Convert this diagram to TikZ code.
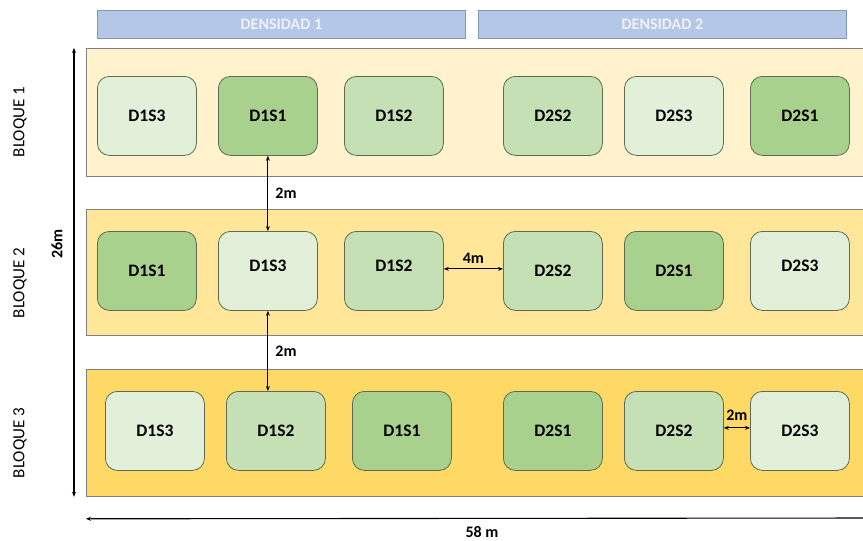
\documentclass[tikz,border=0pt]{standalone}
\usepackage{fontspec}
\setmainfont{Carlito}
\usetikzlibrary{arrows.meta}
\definecolor{hdrfill}{HTML}{B4C7E7}
\definecolor{hdrdraw}{HTML}{8497B0}
\definecolor{hdrtext}{HTML}{EEF2FA}
\definecolor{bandA}{HTML}{FFF2CC}
\definecolor{bandB}{HTML}{FFE699}
\definecolor{bandC}{HTML}{FFD966}
\definecolor{bandline}{HTML}{7F7F7F}
\definecolor{sA}{HTML}{A9D18E}
\definecolor{sB}{HTML}{C5E0B4}
\definecolor{sC}{HTML}{E2F0D9}
\definecolor{boxline}{HTML}{5E6B52}
\tikzset{
  hdr/.style={draw=hdrdraw, fill=hdrfill, line width=0.8pt, anchor=north west, inner sep=0pt,
    minimum width=368pt, minimum height=28pt, text=hdrtext, font=\fontsize{16}{19}\selectfont\bfseries},
  band/.style={draw=bandline, line width=0.8pt, anchor=north west, inner sep=0pt, minimum width=800pt},
  plot/.style={draw=boxline, line width=0.8pt, rounded corners=12pt, anchor=north west, inner sep=0pt,
    minimum width=99pt, minimum height=79pt, font=\fontsize{17.5}{20}\selectfont\bfseries},
  s1/.style={plot, fill=sA},
  s2/.style={plot, fill=sB},
  s3/.style={plot, fill=sC},
  lbl/.style={font=\fontsize{16}{19}\selectfont\bfseries, inner sep=0pt},
  blq/.style={font=\fontsize{17}{20}\selectfont, rotate=90, inner sep=0pt},
  dim/.style={line width=1.1pt, {Stealth[length=5pt,width=4pt]}-{Stealth[length=5pt,width=4pt]}},
  dimL/.style={line width=1.1pt, {Stealth[length=5pt,width=4pt]}-},
}
\begin{document}
\begin{tikzpicture}[x=1pt,y=-1pt]
\clip (0,0) rectangle (863,541);
\useasboundingbox (0,0) rectangle (863,541);
\fill[white] (0,0) rectangle (863,541);
% headers
\node[hdr] (h1) at (97,10) {DENSIDAD 1};
\node[hdr] (h2) at (478,10) {DENSIDAD 2};
% bands
\node[band, fill=bandA, minimum height=128pt] (band1) at (86,48) {};
\node[band, fill=bandB, minimum height=126pt] (band2) at (86,209) {};
\node[band, fill=bandC, minimum height=127pt] (band3) at (86,369) {};
% block labels
\node[blq] (bl1) at (20,122) {BLOQUE 1};
\node[blq] (bl2) at (20,283) {BLOQUE 2};
\node[blq] (bl3) at (20,443) {BLOQUE 3};
% bloque 1
\node[s3] (a1) at (97,76) {D1S3};
\node[s1] (a2) at (218,76) {D1S1};
\node[s2] (a3) at (344,76) {D1S2};
\node[s2] (a4) at (503,76) {D2S2};
\node[s3] (a5) at (624,76) {D2S3};
\node[s1] (a6) at (750,76) {D2S1};
% bloque 2
\node[s1] (b1) at (97,231) {D1S1};
\node[s3] (b2) at (218,231) {\raisebox{11pt}{D1S3}};
\node[s2] (b3) at (344,231) {\raisebox{11pt}{D1S2}};
\node[s2] (b4) at (503,231) {D2S2};
\node[s1] (b5) at (624,231) {D2S1};
\node[s3] (b6) at (750,231) {\raisebox{11pt}{D2S3}};
% bloque 3
\node[s3] (c1) at (105,391) {D1S3};
\node[s2] (c2) at (226,391) {D1S2};
\node[s1] (c3) at (352,391) {D1S1};
\node[s1] (c4) at (503,391) {D2S1};
\node[s2] (c5) at (624,391) {D2S2};
\node[s3] (c6) at (750,391) {D2S3};
% dimension lines
\draw[dim] (a2.south) -- (b2.north) node[lbl, pos=0.5, right=7pt] {2m};
\draw[dim] (b2.south) -- (b2.south |- c2.north) node[lbl, pos=0.5, right=7pt] {2m};
\draw[dim] ([yshift=2pt]b3.east) -- ([yshift=2pt]b4.west) node[lbl, pos=0.5, above=5pt] {4m};
\draw[dim] ([yshift=3pt]c5.east) -- ([yshift=3pt]c6.west) node[lbl, pos=0.5, above=7pt] {2m};
\coordinate (vt) at ([xshift=-12pt]band1.north west);
\coordinate (vb) at ([xshift=-12pt]band3.south west);
\draw[dim] (vt) -- (vb);
\node[lbl, rotate=90] (l26) at (57,244) {26m};
\coordinate (hl) at ([yshift=-22pt]band3.south west);
\coordinate (hr) at (880,518);
\draw[dimL] (hl) -- (hr);
\node[lbl] (l58) at (482,532) {58 m};
\end{tikzpicture}
\end{document}
